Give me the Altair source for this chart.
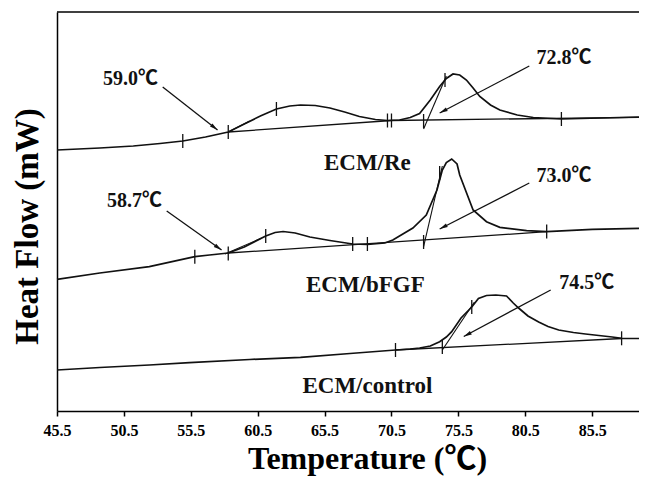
import math
import altair as alt
import pandas as pd

# ---------------- data ----------------
# DSC curves: temperature (deg C) and heat flow (arbitrary units)
re_T = [45.5, 48.7, 51.2, 53.2, 54.9, 56.6, 58.3, 59.5, 60.7, 61.9, 62.9, 63.7, 64.8, 65.9,
        67.0, 68.1, 69.3, 70.2, 71.1, 71.9, 72.6, 73.4, 74.1, 74.6, 75.1, 75.6, 76.1, 76.6,
        77.1, 77.9, 78.6, 79.9, 81.1, 83.2, 86.1, 89.0]
re_H = [261, 263, 265, 267.5, 270, 274, 279, 287, 295, 302, 305, 306, 305.5, 303,
        299, 294.5, 291.5, 290.5, 291, 293.5, 297.5, 311, 324.5, 332.5, 337, 336, 331, 323,
        314.5, 306, 301, 296, 293.5, 292, 293, 294]

bf_T = [45.5, 48.7, 52.4, 55.8, 56.9, 58.3, 59.5, 61.1, 61.8, 62.4, 63.3, 64.4, 65.9, 67.6,
        68.7, 70.0, 70.6, 72.1, 73.1, 73.9, 74.3, 74.6, 75.0, 75.4, 75.6, 76.6, 77.6, 78.6,
        80.6, 82.1, 85.5, 89.0]
bf_H = [131.7, 138, 144.3, 154.3, 156, 158, 164, 175, 178.5, 179.5, 178, 174, 170.5, 167,
        166.5, 168, 171, 183, 196, 221, 241, 248.5, 252, 247, 236, 201, 189.3, 183.7,
        180.3, 179.3, 181.7, 182.7]

ct_T = [45.5, 48.7, 52.4, 55.4, 59.9, 63.7, 67.4, 70.8, 71.9, 72.6, 73.4, 74.1, 74.6, 75.0,
        75.7, 76.5, 77.0, 77.6, 78.3, 79.1, 79.6, 80.0, 80.7, 81.5, 82.2, 83.0, 84.1, 85.0,
        86.0, 87.0, 87.7, 89.0]
ct_H = [41, 43.5, 46, 48.3, 51.5, 53.7, 57.5, 61, 62, 63, 65, 69.3, 74, 79.3,
        93, 104, 112.5, 115.5, 116, 115, 108, 103, 95, 89, 84.5, 81, 78.5, 77,
        75.5, 74, 72.7, 72.5]

# baselines (start T, start H, end T, end H)
base_T1 = [58.3, 70.5, 58.3, 70.8]
base_H1 = [279, 290.5, 158, 61]
base_T2 = [70.5, 89.0, 82.1, 87.7]
base_H2 = [290.5, 293.7, 179.3, 72.5]

# onset tangents
tan_T1 = [58.3, 72.9, 58.05, 72.9, 74.3]
tan_H1 = [279, 282, 157, 164.3, 61]
tan_T2 = [59.9, 74.6, 60.8, 74.3, 76.7]
tan_H2 = [290, 335, 173, 245, 109]

# integration limit marks
mark_T = [54.9, 58.3, 61.9, 70.2, 70.5, 72.9, 74.5, 83.2,
          55.8, 58.3, 61.1, 67.6, 68.7, 72.9, 74.1, 82.1,
          70.8, 74.3, 76.5, 87.7]
mark_H = [270, 279, 302, 290.5, 290.5, 290, 331, 292,
          154.3, 157.5, 175, 167, 167, 169, 238, 179.5,
          61, 64, 104, 72.7]

# annotation arrows
arr_T1 = [53.4, 80.8, 53.7, 80.8, 82.4]
arr_H1 = [324, 345, 200, 228, 121]
arr_T2 = [57.5, 74.1, 57.8, 74.1, 75.9]
arr_H2 = [281, 298, 161, 182, 74.5]

# labels
lab_text = ["59.0℃", "72.8℃", "58.7℃", "73.0℃", "74.5℃"]
lab_T = [51.0, 83.4, 51.3, 83.4, 85.1]
lab_H = [332, 353.5, 210.5, 235.5, 128.5]

sample_text = ["ECM/Re", "ECM/bFGF", "ECM/control"]
sample_T = [68.7, 68.55, 68.7]
sample_H = [248.5, 126.5, 25.5]

x_ticks = [45.5, 50.5, 55.5, 60.5, 65.5, 70.5, 75.5, 80.5, 85.5]

# ---------------- chart ----------------
W, Hh = 582, 399
XD = [45.5, 89.0]
YD = [0, 399]
kx = W / (XD[1] - XD[0])
ky = Hh / (YD[1] - YD[0])

SERIF = "Liberation Serif, Noto Sans CJK SC"

curves = pd.concat([
    pd.DataFrame({"T": re_T, "H": re_H, "s": "Re"}),
    pd.DataFrame({"T": bf_T, "H": bf_H, "s": "bFGF"}),
    pd.DataFrame({"T": ct_T, "H": ct_H, "s": "control"}),
])
bases = pd.DataFrame({"T": base_T1, "H": base_H1, "T2": base_T2, "H2": base_H2})
tans = pd.DataFrame({"T": tan_T1, "H": tan_H1, "T2": tan_T2, "H2": tan_H2})
marks = pd.DataFrame({"T": mark_T, "H": mark_H})
arrows = pd.DataFrame({"T": arr_T1, "H": arr_H1, "T2": arr_T2, "H2": arr_H2})

# arrow heads: point at tip, rotated along the arrow direction
heads = []
head_px = 4.5
for t1, h1, t2, h2 in zip(arr_T1, arr_H1, arr_T2, arr_H2):
    dx = (t2 - t1) * kx
    dy = -(h2 - h1) * ky
    L = math.hypot(dx, dy)
    ang = math.degrees(math.atan2(dx, -dy)) % 360
    ux, uy = dx / L, dy / L
    heads.append({"T": t2 - ux * head_px / kx, "H": h2 + uy * head_px / ky, "ang": ang})
heads = pd.DataFrame(heads)

labels = pd.DataFrame({"T": lab_T, "H": lab_H, "txt": lab_text})
samples = pd.DataFrame({"T": sample_T, "H": sample_H, "txt": sample_text})

x_scale = alt.Scale(domain=XD, nice=False, zero=False)
y_scale = alt.Scale(domain=YD, nice=False, zero=False)
x_axis = alt.Axis(values=x_ticks, format=".1f", grid=False, labelFlush=False,
                  title="Temperature (℃)",
                  labelFont=SERIF, labelFontSize=16, labelFontWeight="bold",
                  labelColor="black", labelPadding=6,
                  tickSize=5, tickColor="black", tickWidth=1.5,
                  domainColor="black", domainWidth=1.5,
                  titleFont=SERIF, titleFontSize=32, titleFontWeight="bold",
                  titleColor="black", titleX=310, titleY=57,
                  titleBaseline="alphabetic", titleAlign="center")
y_axis = alt.Axis(ticks=False, labels=False, grid=False,
                  title="Heat Flow (mW)",
                  domainColor="black", domainWidth=1.5,
                  titleFont=SERIF, titleFontSize=33, titleFontWeight="bold",
                  titleColor="black", titleX=-30, titleY=214,
                  titleAngle=270, titleBaseline="middle", titleAlign="center")
x_enc = alt.X("T:Q", scale=x_scale, axis=x_axis)
y_enc = alt.Y("H:Q", scale=y_scale, axis=y_axis)

line_layer = alt.Chart(curves).mark_line(color="#111", strokeWidth=1.7).encode(
    x=x_enc, y=y_enc, detail="s:N")
base_layer = alt.Chart(bases).mark_rule(color="#111", strokeWidth=1.3).encode(
    x=x_enc, y=y_enc, x2="T2:Q", y2="H2:Q")
tan_layer = alt.Chart(tans).mark_rule(color="#111", strokeWidth=1.1).encode(
    x=x_enc, y=y_enc, x2="T2:Q", y2="H2:Q")
mark_layer = alt.Chart(marks).transform_calculate(
    lo="datum.H - 7", hi="datum.H + 7").mark_rule(color="#111", strokeWidth=1.3).encode(
    x=x_enc, y=alt.Y("lo:Q", scale=y_scale, axis=y_axis), y2="hi:Q")
arrow_layer = alt.Chart(arrows).mark_rule(color="#111", strokeWidth=1.3).encode(
    x=x_enc, y=y_enc, x2="T2:Q", y2="H2:Q")
head_layer = alt.Chart(heads).mark_point(
    shape="M0,-1L0.45,0.8L-0.45,0.8Z", filled=True, color="#111", opacity=1, size=80
).encode(x=x_enc, y=y_enc, angle=alt.Angle("ang:Q", scale=None))
label_layer = alt.Chart(labels).mark_text(
    font=SERIF, fontSize=20, fontWeight="bold", color="#111", baseline="middle", align="center"
).encode(x=x_enc, y=y_enc, text="txt:N")
sample_layer = alt.Chart(samples).mark_text(
    font=SERIF, fontSize=23, fontWeight="bold", color="#111", baseline="middle", align="center"
).encode(x=x_enc, y=y_enc, text="txt:N")
top_line = alt.Chart(pd.DataFrame({"a": [0]})).mark_rule(color="black", strokeWidth=1.5).encode(
    x=alt.value(0), x2=alt.value(W), y=alt.value(0))

chart = alt.layer(line_layer, base_layer, tan_layer, mark_layer, arrow_layer, head_layer,
                  label_layer, sample_layer, top_line).properties(
    width=W, height=Hh,
    background="white",
    autosize=alt.AutoSizeParams(type="none"),
    padding={"left": 49, "top": 4, "right": 0, "bottom": 68},
).configure_view(strokeWidth=0, stroke="transparent")

chart.save("out.html", embed_options={"renderer": "svg", "actions": False})
